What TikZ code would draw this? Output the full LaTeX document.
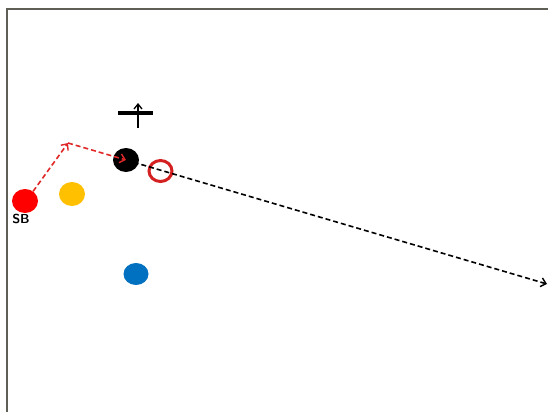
\documentclass[tikz,border=0pt]{standalone}
\usetikzlibrary{arrows.meta,shapes.geometric}
\definecolor{sbred}{HTML}{FF0000}
\definecolor{dred}{HTML}{E02828}
\definecolor{ringred}{HTML}{D42020}
\definecolor{yel}{HTML}{FFC000}
\definecolor{blu}{HTML}{0070C0}
\definecolor{frame}{HTML}{5F5F55}
\tikzset{
  ball/.style={ellipse, minimum width=26pt, minimum height=24pt, inner sep=0pt},
  pass/.style={dash pattern=on 5pt off 3pt, line width=1.6pt, -{Straight Barb[length=5pt,width=9pt,line width=1.4pt]}},
}
\begin{document}
\begin{tikzpicture}[x=1pt,y=-1pt]
\useasboundingbox (0,0) rectangle (548,412);
\fill[white] (0,0) rectangle (548,412);
\draw[frame, line width=2pt] (7,412) -- (7,9) -- (548,9);
\node[ball, fill=sbred] (sb) at (25,201) {};
\node[font=\sffamily\bfseries\fontsize{13}{14}\selectfont, inner sep=0pt] (sblabel) at (21,219) {SB};
\node[ball, fill=yel] (y) at (72,194) {};
\node[ball, fill=black] (k) at (126,160) {};
\node[ball, draw=ringred, line width=3pt, minimum width=23pt, minimum height=21pt] (ring) at (160.5,171) {};
\node[ball, fill=blu, minimum width=25pt, minimum height=22pt] (b) at (136,274) {};
\coordinate (corner) at (68,143);
\coordinate (far) at (547,284);
\coordinate (barL) at (118,113);
\coordinate (barR) at (153,113);
\coordinate (upB) at (138,128);
\coordinate (upT) at (138,103);
\draw[line width=3.5pt] (barL) -- (barR);
\draw[line width=1.4pt, -{Straight Barb[length=5pt,width=8pt,line width=1.3pt]}] (upB) -- (upT);
\draw[pass, dred] (sb.50) -- (corner);
\draw[pass, dred] (corner) -- (k.center);
\draw[pass, black] (k.center) -- (far);
\end{tikzpicture}
\end{document}
